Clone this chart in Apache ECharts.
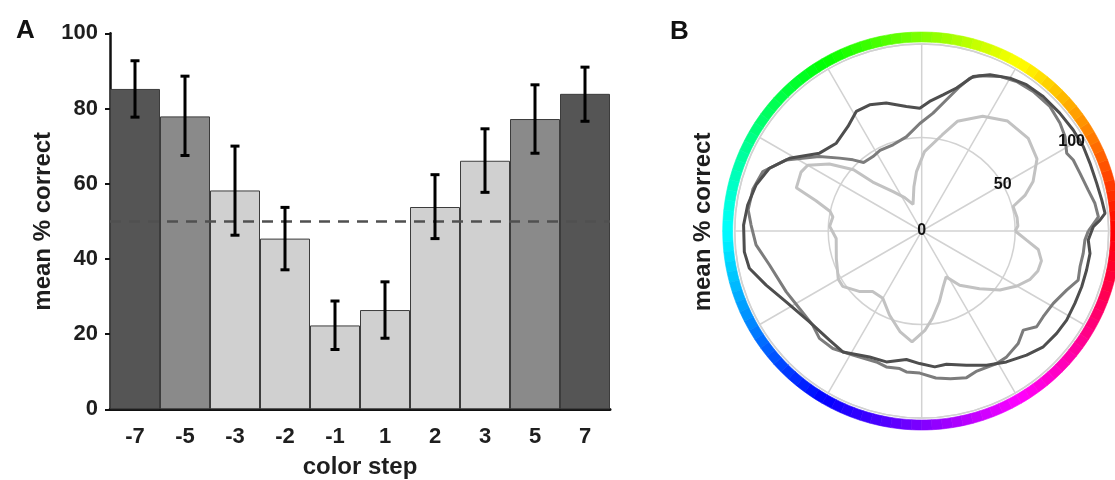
<!DOCTYPE html>
<html>
<head>
<meta charset="utf-8">
<script src="https://cdn.jsdelivr.net/npm/echarts@6/dist/echarts.min.js"></script>
<style>
html,body{margin:0;padding:0;background:#fff;}
#chart{width:1115px;height:480px;}
</style>
</head>
<body>
<div id="chart"></div>
<script>
// ---------- Panel A data ----------
const colorSteps = ['-7', '-5', '-3', '-2', '-1', '1', '2', '3', '5', '7'];
const meanCorrect = [85.2, 77.9, 58.2, 45.4, 22.3, 26.4, 53.8, 66.1, 77.2, 83.9];
const errUpper = [92.7, 88.6, 70.0, 53.7, 28.8, 33.9, 62.4, 74.6, 86.3, 91.0];
const errLower = [77.7, 67.5, 46.3, 37.1, 15.9, 18.9, 45.4, 57.7, 68.1, 76.6];
const chanceLevel = 50;
const yTicks = [0, 20, 40, 60, 80, 100];

// ---------- Panel B data (angle in degrees, counter-clockwise from right; radius = % correct) ----------
const lightAngle = [0, 3, 8, 15, 19, 24, 32, 41, 52, 62, 72, 78, 88, 95, 100, 108, 117, 126, 135, 138, 144, 150, 154, 161, 164, 168, 171, 177, 185, 198, 210, 215, 224, 231, 240, 249, 258, 265, 272, 277, 284, 291, 298, 305, 315, 323, 330, 336, 341, 346, 351, 355, 360];
const lightR = [50, 51.5, 51.5, 50.6, 58.4, 65.2, 72.7, 75.5, 74.6, 69.5, 61.7, 52.5, 42.5, 31.9, 24, 15, 20, 26, 37, 49, 61, 70.4, 71.8, 70.9, 58.8, 50, 48.1, 49.3, 45.9, 48, 51.5, 51.6, 46.5, 41.7, 41.6, 48.1, 55.2, 59.5, 53, 47, 39, 32, 27.8, 35.4, 43.7, 52.4, 58.8, 63.5, 65.7, 66, 63.1, 56.3, 50];

const darkAngle = [0, 1.4, 3.5, 5.5, 9.8, 15.3, 21.9, 27.6, 33.7, 40.5, 47.9, 54.4, 60, 66.4, 71.6, 76.3, 81.1, 86.5, 90.9, 97, 105.5, 112.4, 118.7, 125.2, 134.2, 142.7, 151.2, 157.6, 164.4, 171.5, 178.1, 186.7, 192.2, 199.2, 207.6, 219, 229.8, 236.9, 247.5, 254.9, 263.2, 269.1, 275.5, 280.5, 288.4, 295.8, 302.9, 310.2, 316.4, 322.8, 328.4, 334.7, 340.8, 346.7, 352.4, 356.9, 360];
const darkR = [90.9, 91.8, 95.5, 98.5, 97.7, 97, 97, 97.5, 97.4, 97.1, 96.9, 96.2, 94.4, 91.2, 87.1, 78.7, 73.7, 69.4, 65.7, 67.1, 71, 73, 72.9, 68.4, 65.5, 68.7, 80.7, 88.1, 91.9, 94.1, 95.3, 95.5, 94.3, 88.1, 81.8, 77.2, 76.4, 77.2, 72.9, 72.5, 69.2, 70.9, 73, 72.5, 75.7, 79.7, 83.4, 86.9, 89.8, 90.6, 91, 90.6, 90.6, 90.6, 90.8, 89.2, 90.9];

const midAngle = [0, 4.6, 9.1, 13.8, 20.1, 25.1, 28.2, 33.4, 38, 44.2, 51.4, 57.6, 63.2, 69.5, 72.5, 75.2, 79.3, 84.5, 91, 99.3, 108.4, 117.4, 123.2, 130.3, 134, 138.4, 144, 152.3, 159.5, 166, 173, 178, 184.8, 192.6, 204.2, 212.4, 220.8, 226.4, 232.9, 241, 250.9, 255.4, 260.9, 263.8, 269.2, 275.5, 281, 287, 291.5, 299.5, 304, 310.6, 315.7, 320.2, 324.8, 331.2, 337.8, 342.6, 347.3, 352.1, 356.8, 360];
const midR = [89.1, 94.8, 93.8, 91.7, 90.1, 89.5, 88, 91.8, 93.8, 95.6, 95.5, 94.7, 92.6, 88.6, 85.7, 79.9, 71.4, 63.3, 57.5, 51, 48.6, 48.5, 47.6, 48, 52.9, 58.7, 67.8, 81.8, 90.7, 93, 93.5, 91.3, 88.9, 83.4, 79.4, 77.4, 77, 79.3, 78.8, 75.9, 74.1, 75.1, 74.5, 75.8, 76, 79, 80.5, 82, 80.5, 81.4, 81.2, 79.3, 75.9, 80, 79.5, 80.3, 83.7, 87.7, 86.8, 87.2, 87.4, 89.1];
const polarRadiusTicks = [0, 50, 100];

// ---------- styling ----------
const FONT = '"Liberation Sans", Arial, Helvetica, sans-serif';
const TXT = '#1e1e1e';
function barShade(step) {
  const a = Math.abs(Number(step));
  if (a === 7) return '#555555';
  if (a === 5) return '#8a8a8a';
  return '#d0d0d0';
}
const polarCenter = [921.7, 231];
const polarRadius = 187;

// hue wheel (decorative colour ring around panel B)
const ringSlices = [];
for (let h = 0; h < 360; h += 3) {
  const c = 'hsl(' + (h + 1.5) + ',100%,50%)';
  ringSlices.push({ value: 1, itemStyle: { color: c, borderColor: c, borderWidth: 0.6 } });
}

const chart = echarts.init(document.getElementById('chart'), null, { renderer: 'canvas' });

const option = {
  animation: false,
  backgroundColor: '#ffffff',
  textStyle: { fontFamily: FONT },
  title: [
    { text: 'A', left: 11, top: 13, textStyle: { fontSize: 26, fontWeight: 'bold', color: '#111', fontFamily: FONT } },
    { text: 'B', left: 665, top: 14, textStyle: { fontSize: 26, fontWeight: 'bold', color: '#111', fontFamily: FONT } }
  ],
  grid: { left: 110, top: 33.3, width: 500, height: 376, containLabel: false, outerBoundsMode: 'none' },
  xAxis: {
    type: 'category',
    data: colorSteps,
    axisLine: { lineStyle: { color: '#111', width: 3 } },
    axisTick: { alignWithLabel: true, length: 6, lineStyle: { color: '#111', width: 2 } },
    axisLabel: { fontSize: 22, fontWeight: 'bold', color: TXT, margin: 17, fontFamily: FONT },
    name: 'color step',
    nameLocation: 'middle',
    nameGap: 46,
    nameTextStyle: { fontSize: 24, fontWeight: 'bold', color: TXT, fontFamily: FONT }
  },
  yAxis: {
    type: 'value',
    min: yTicks[0],
    max: yTicks[yTicks.length - 1],
    interval: yTicks[1] - yTicks[0],
    axisLine: { show: true, lineStyle: { color: '#111', width: 2.5 } },
    axisTick: { show: true, length: 5, lineStyle: { color: '#111', width: 2 } },
    splitLine: { show: false },
    axisLabel: { fontSize: 22, fontWeight: 'bold', color: TXT, margin: 12, fontFamily: FONT },
    name: 'mean % correct',
    nameLocation: 'middle',
    nameGap: 55,
    nameTextStyle: { fontSize: 24, fontWeight: 'bold', color: TXT, fontFamily: FONT }
  },
  polar: [
    { center: polarCenter, radius: polarRadius },
    { center: polarCenter, radius: polarRadius }
  ],
  angleAxis: [
    {
      polarIndex: 0, type: 'value', min: 0, max: 360, interval: 30, startAngle: 0, clockwise: false,
      axisLine: { show: true, lineStyle: { color: '#d2d2d2', width: 1.5 } },
      axisTick: { show: false }, axisLabel: { show: false },
      splitLine: { show: true, lineStyle: { color: '#d2d2d2', width: 1.5 } }
    },
    {
      polarIndex: 1, type: 'value', min: 0, max: 360, interval: 30, startAngle: 30, clockwise: false,
      axisLine: { show: false }, axisTick: { show: false }, axisLabel: { show: false }, splitLine: { show: false }
    }
  ],
  radiusAxis: [
    {
      polarIndex: 0, type: 'value', min: polarRadiusTicks[0], max: polarRadiusTicks[2], interval: polarRadiusTicks[1],
      axisLine: { show: false }, axisTick: { show: false }, axisLabel: { show: false },
      splitLine: { show: true, lineStyle: { color: '#d2d2d2', width: 1.5 } }
    },
    {
      polarIndex: 1, type: 'value', min: polarRadiusTicks[0], max: polarRadiusTicks[2], interval: polarRadiusTicks[1],
      z: 10,
      axisLine: { show: false }, axisTick: { show: false }, splitLine: { show: false },
      axisLabel: {
        show: true, margin: 0, align: 'center', verticalAlign: 'middle',
        formatter: function (v) { return v === polarRadiusTicks[2] ? '{hi|' + v + '}' : '{lo|' + v + '}'; },
        rich: {
          lo: { fontSize: 16, fontWeight: 'bold', color: '#111', fontFamily: FONT },
          hi: { fontSize: 16, fontWeight: 'bold', color: '#111', fontFamily: FONT, padding: [8, 24, 0, 0] }
        }
      }
    }
  ],
  graphic: [
    {
      type: 'text', x: 703, y: 222, rotation: Math.PI / 2, z: 100,
      style: { text: 'mean % correct', font: 'bold 24px ' + FONT, fill: TXT, align: 'center', verticalAlign: 'middle' }
    }
  ],
  series: [
    {
      type: 'bar',
      xAxisIndex: 0, yAxisIndex: 0,
      barCategoryGap: '0%',
      data: meanCorrect.map((v, i) => ({ value: v, itemStyle: { color: barShade(colorSteps[i]) } })),
      itemStyle: { borderColor: '#3c3c3c', borderWidth: 1 },
      markLine: {
        silent: true, symbol: 'none',
        label: { show: false },
        lineStyle: { type: [11, 8], color: '#505050', width: 2.5 },
        data: [{ yAxis: chanceLevel }]
      },
      z: 2
    },
    {
      type: 'custom',
      xAxisIndex: 0, yAxisIndex: 0,
      data: colorSteps.map((s, i) => [i, errLower[i], errUpper[i]]),
      renderItem: function (params, api) {
        const x = api.value(0);
        const lo = api.coord([x, api.value(1)]);
        const hi = api.coord([x, api.value(2)]);
        const cw = 4.5;
        const st = { stroke: '#000', lineWidth: 3 };
        return {
          type: 'group',
          children: [
            { type: 'line', shape: { x1: lo[0], y1: lo[1], x2: hi[0], y2: hi[1] }, style: st },
            { type: 'line', shape: { x1: lo[0] - cw, y1: lo[1], x2: lo[0] + cw, y2: lo[1] }, style: st },
            { type: 'line', shape: { x1: hi[0] - cw, y1: hi[1], x2: hi[0] + cw, y2: hi[1] }, style: st }
          ]
        };
      },
      z: 5
    },
    {
      type: 'pie',
      center: polarCenter,
      radius: [189, 199],
      startAngle: 0,
      clockwise: false,
      silent: true,
      label: { show: false },
      labelLine: { show: false },
      emphasis: { disabled: true },
      data: ringSlices,
      z: 1
    },
    {
      type: 'line', coordinateSystem: 'polar', polarIndex: 0,
      data: lightAngle.map((a, i) => [lightR[i], a]),
      showSymbol: false, symbol: 'none',
      lineStyle: { color: '#c2c2c2', width: 3 },
      z: 3
    },
    {
      type: 'line', coordinateSystem: 'polar', polarIndex: 0,
      data: midAngle.map((a, i) => [midR[i], a]),
      showSymbol: false, symbol: 'none',
      lineStyle: { color: '#7c7c7c', width: 3 },
      z: 4
    },
    {
      type: 'line', coordinateSystem: 'polar', polarIndex: 0,
      data: darkAngle.map((a, i) => [darkR[i], a]),
      showSymbol: false, symbol: 'none',
      lineStyle: { color: '#4e4e4e', width: 3 },
      z: 5
    }
  ]
};
chart.setOption(option);
</script>
</body>
</html>
